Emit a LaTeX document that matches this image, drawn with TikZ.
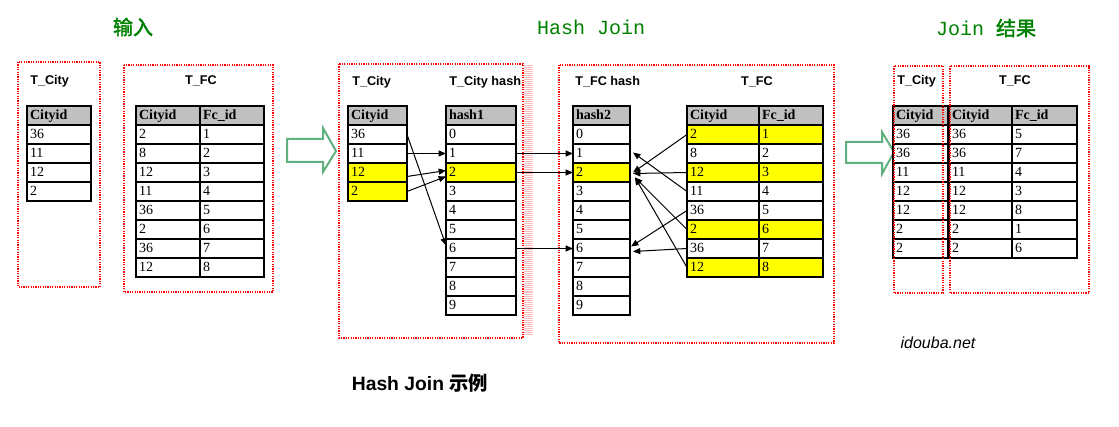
\documentclass[tikz,border=0pt]{standalone}
\usepackage{fontspec}
\setmainfont{Liberation Serif}
\newfontfamily\arialf{Liberation Sans}
\newfontfamily\monof{Liberation Mono}
\newfontfamily\cjkf{Noto Sans CJK SC}
\newfontfamily\cjkbf{Noto Sans CJK SC}[FakeBold=2]
\usetikzlibrary{arrows.meta,calc}
\definecolor{titlegreen}{RGB}{0,128,0}
\definecolor{arrowgreen}{RGB}{96,176,128}
\definecolor{hdrgray}{RGB}{192,192,192}
\definecolor{cellyellow}{RGB}{255,255,0}
\definecolor{stripepink}{RGB}{255,190,190}
\tikzset{
  cell/.style={draw=black, line width=1.5pt, anchor=north west, outer sep=0pt,
    inner xsep=2.25pt, inner ysep=0pt, minimum height=14.25pt, align=left,
    font=\fontsize{10.5}{12}\selectfont, text height=7.5pt, text depth=2pt},
  hdr/.style={cell, fill=hdrgray, font=\fontsize{10.5}{12}\selectfont\bfseries},
  tlabel/.style={font=\arialf\bfseries\fontsize{9.5}{11}\selectfont, inner sep=0pt},
  region/.style={draw=red, line width=0.9pt, dash pattern=on 0.9pt off 0.9pt},
  link/.style={draw=black, line width=0.75pt, -{Triangle[length=5.5pt,width=4.5pt]}},
  bigarrow/.style={draw=arrowgreen, line width=1.5pt, fill=white, line join=miter},
  title/.style={text=titlegreen, inner sep=0pt},
}
\newcommand\tabcol[5]{%
  \pgfmathsetlengthmacro\tcw{(#3-6)*0.75pt}%
  \node[hdr, text width=\tcw] (#1-h) at (#2,106) {#4};
  \foreach \v/\f [count=\i] in {#5} {
    \node[cell, fill=\f, text width=\tcw] (#1-\i) at ({#2},{106+19*\i}) {\v};
  }
}
\begin{document}
\begin{tikzpicture}[x=0.75pt,y=-0.75pt]
\useasboundingbox (0,0) rectangle (1119,427);

% titles
\node[title, font=\cjkbf\fontsize{15}{18}\selectfont] (t1) at (133,27) {输入};
\node[title, font=\monof\fontsize{15}{18}\selectfont] (t2) at (591,27) {Hash Join};
\node[title, font=\fontsize{15}{18}\selectfont] (t3) at (986,28) {{\monof Join }{\cjkbf 结果}};

% ---------- input ----------
\draw[region] (18,62) rectangle (100,287);
\draw[region] (124,65) rectangle (273,292);
\node[tlabel, anchor=west] (l1) at (30,81) {T\_City};
\node[tlabel] (l2) at (201,81) {T\_FC};
\tabcol{lc}{27}{64}{Cityid}{36/white,11/white,12/white,2/white}
\tabcol{la}{136}{64}{Cityid}{2/white,8/white,12/white,11/white,36/white,2/white,36/white,12/white}
\tabcol{lb}{200}{64}{Fc\_id}{1/white,2/white,3/white,4/white,5/white,6/white,7/white,8/white}

\draw[bigarrow] (287,139) -- (323,139) -- (323,128) -- (336,151) -- (323,172) -- (323,162) -- (287,162) -- cycle;

% ---------- hash join ----------
\foreach \yy in {66,68,...,334} \draw[stripepink, line width=0.75pt] (523.5,\yy) -- (533,\yy);
\draw[region] (339,64) rectangle (523,338);
\draw[region] (559,65) rectangle (834,343);
\node[tlabel, anchor=west] (l3) at (352,82) {T\_City};
\node[tlabel, anchor=west] (l4) at (449,82) {T\_City hash};
\node[tlabel, anchor=west] (l5) at (575,82) {T\_FC hash};
\node[tlabel] (l6) at (757,82) {T\_FC};
\tabcol{cc}{348}{59}{Cityid}{36/white,11/white,12/cellyellow,2/cellyellow}
\tabcol{h1}{446}{70}{hash1}{0/white,1/white,2/cellyellow,3/white,4/white,5/white,6/white,7/white,8/white,9/white}
\tabcol{h2}{573}{57}{hash2}{0/white,1/white,2/cellyellow,3/white,4/white,5/white,6/white,7/white,8/white,9/white}
\tabcol{fa}{687}{72}{Cityid}{2/cellyellow,8/white,12/cellyellow,11/white,36/white,2/cellyellow,36/white,12/cellyellow}
\tabcol{fb}{759}{64}{Fc\_id}{1/cellyellow,2/white,3/cellyellow,4/white,5/white,6/cellyellow,7/white,8/cellyellow}

% build side links
\draw[link] (cc-2.east) -- (h1-2.west);
\draw[link] ($(cc-3.east)+(0,4)$) -- ($(h1-3.west)+(0,-2)$);
\draw[link] (cc-4.east) -- ($(h1-3.west)+(0,4)$);
\draw[link] (cc-1.east) -- ($(h1-7.west)+(0,-3)$);
% hash1 -> hash2
\draw[link] (h1-2.east) -- (h2-2.west);
\draw[link] (h1-3.east) -- (h2-3.west);
\draw[link] (h1-7.east) -- (h2-7.west);
% probe side links
\draw[link] (fa-1.west) -- ($(h2-3.east)+(3,0)$);
\draw[link] (fa-3.west) -- ($(h2-3.east)+(3,1)$);
\draw[link] (fa-4.west) -- ($(h2-2.east)+(3,-1)$);
\draw[link] (fa-5.west) -- ($(h2-7.east)+(1,-2)$);
\draw[link] (fa-6.west) -- ($(h2-3.east)+(5,5)$);
\draw[link] (fa-7.west) -- ($(h2-7.east)+(3,3)$);
\draw[link] (fa-8.west) -- ($(h2-3.east)+(5,5)$);

\draw[bigarrow] (846,142) -- (882,142) -- (882,132) -- (894,152) -- (882,174) -- (882,163) -- (846,163) -- cycle;

% ---------- result ----------
\tabcol{rc}{893}{55}{Cityid}{36/white,36/white,11/white,12/white,12/white,2/white,2/white}
\tabcol{ra}{949}{63}{Cityid}{36/white,36/white,11/white,12/white,12/white,2/white,2/white}
\tabcol{rb}{1012}{65}{Fc\_id}{5/white,7/white,4/white,3/white,8/white,1/white,6/white}
\draw[region] (894,66) rectangle (943,293);
\draw[region] (950,66) rectangle (1089,293);
\node[tlabel, anchor=west] (l7) at (897,81) {T\_City};
\node[tlabel] (l8) at (1015,81) {T\_FC};

\node[font=\arialf\itshape\fontsize{12}{14}\selectfont, inner sep=0pt] (site) at (938,343) {idouba.net};
\node[font=\arialf\bfseries\fontsize{14.5}{17}\selectfont, inner sep=0pt] (cap) at (420,383) {Hash Join {\cjkf 示例}};
\end{tikzpicture}
\end{document}
